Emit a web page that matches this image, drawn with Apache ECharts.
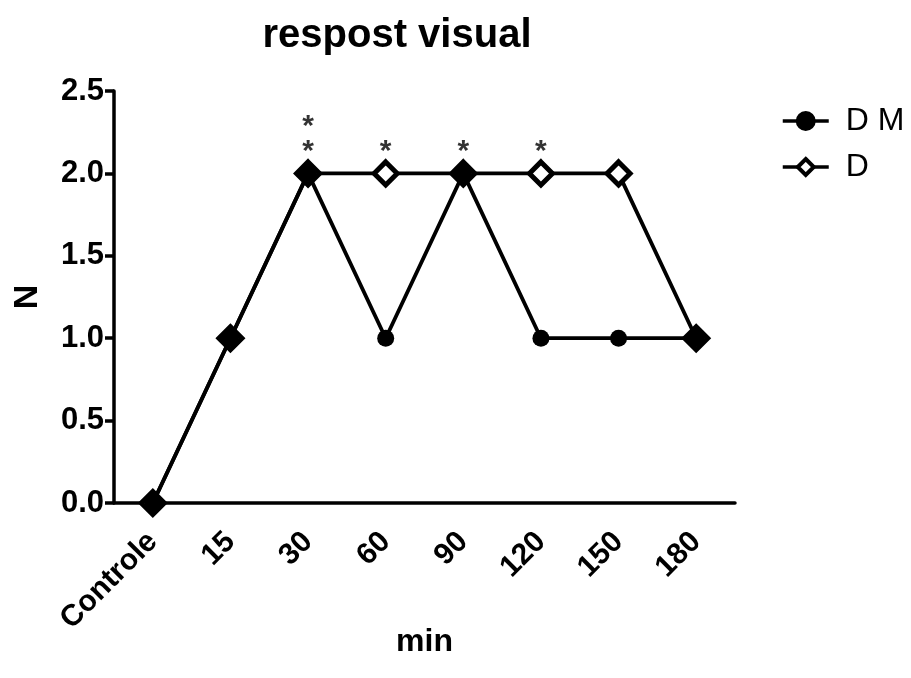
<!DOCTYPE html>
<html>
<head>
<meta charset="utf-8">
<script src="https://cdn.jsdelivr.net/npm/echarts@6/dist/echarts.min.js"></script>
<style>html,body{margin:0;padding:0;background:#fff}#c{width:911px;height:678px}</style>
</head>
<body>
<div id="c"></div>
<script>
var categories = ['Controle', '15', '30', '60', '90', '120', '150', '180'];
var dmValues = [0, 1, 2, 1, 2, 1, 1, 1];
var dValues = [0, 1, 2, 2, 2, 2, 2, 1];
var sigMarks = ['', '', '*\n*', '*', '*', '*', '', ''];
var sigLevel = [2, 2, 2, 2, 2, 2, 2, 2];

var FONT = '"Liberation Sans", Arial, sans-serif';
var chart = echarts.init(document.getElementById('c'), null, {renderer: 'canvas'});
chart.setOption({
  animation: false,
  backgroundColor: '#fff',
  title: {
    text: 'respost visual', left: 392, top: 11, textAlign: 'center',
    textStyle: {fontFamily: FONT, fontWeight: 'bold', fontSize: 40, color: '#000'}
  },
  legend: {
    orient: 'vertical', left: 776, top: 100, itemGap: 14,
    itemWidth: 46, itemHeight: 20,
    data: ['D M', 'D'],
    lineStyle: {width: 3.5, color: '#000'},
    itemStyle: {borderWidth: 4, borderColor: '#000'},
    textStyle: {fontFamily: FONT, fontSize: 32, color: '#000', padding: [0, 0, 0, 12]}
  },
  grid: {left: 114, right: 176, top: 91, bottom: 175, containLabel: false, outerBoundsMode: 'none'},
  xAxis: {
    type: 'category', data: categories, boundaryGap: true,
    name: 'min', nameLocation: 'middle', nameGap: 123, nameMoveOverlap: false,
    nameTextStyle: {fontFamily: FONT, fontWeight: 'bold', fontSize: 32, color: '#000'},
    axisLine: {lineStyle: {color: '#000', width: 3.5}},
    axisTick: {alignWithLabel: true, length: 9, lineStyle: {color: '#000', width: 3.5}},
    axisLabel: {rotate: 45, margin: 34, fontFamily: FONT, fontWeight: 'bold', fontSize: 30, color: '#000'}
  },
  yAxis: {
    type: 'value', min: 0, max: 2.5, interval: 0.5,
    name: 'N', nameLocation: 'middle', nameGap: 69, nameRotate: 90, nameMoveOverlap: false,
    nameTextStyle: {fontFamily: FONT, fontWeight: 'bold', fontSize: 34, color: '#000'},
    axisLine: {show: true, lineStyle: {color: '#000', width: 3.5}},
    axisTick: {show: true, length: 9, lineStyle: {color: '#000', width: 3.5}},
    splitLine: {show: false},
    axisLabel: {margin: 10, fontFamily: FONT, fontWeight: 'bold', fontSize: 31, color: '#000',
      formatter: function (v) { return v.toFixed(1); }}
  },
  series: [
    {
      name: 'D', type: 'line', data: dValues, z: 2,
      symbol: 'diamond', symbolSize: 23, showAllSymbol: true,
      lineStyle: {color: '#000', width: 3.8},
      itemStyle: {color: '#fff', borderColor: '#000', borderWidth: 5}
    },
    {
      name: 'D M', type: 'line', data: dmValues, z: 3,
      symbol: 'circle', symbolSize: 17, showAllSymbol: true,
      lineStyle: {color: '#000', width: 3.8},
      itemStyle: {color: '#000', borderColor: '#000', borderWidth: 0}
    },
    {
      name: 'sig', type: 'scatter', data: sigLevel, z: 4,
      symbolSize: 1, itemStyle: {color: 'rgba(0,0,0,0)'},
      silent: true,
      label: {
        show: true, position: 'top', distance: 9,
        formatter: function (p) { return sigMarks[p.dataIndex]; },
        fontFamily: FONT, fontWeight: 'bold', fontSize: 30, lineHeight: 25, color: '#000'
      }
    }
  ]
});
</script>
</body>
</html>
